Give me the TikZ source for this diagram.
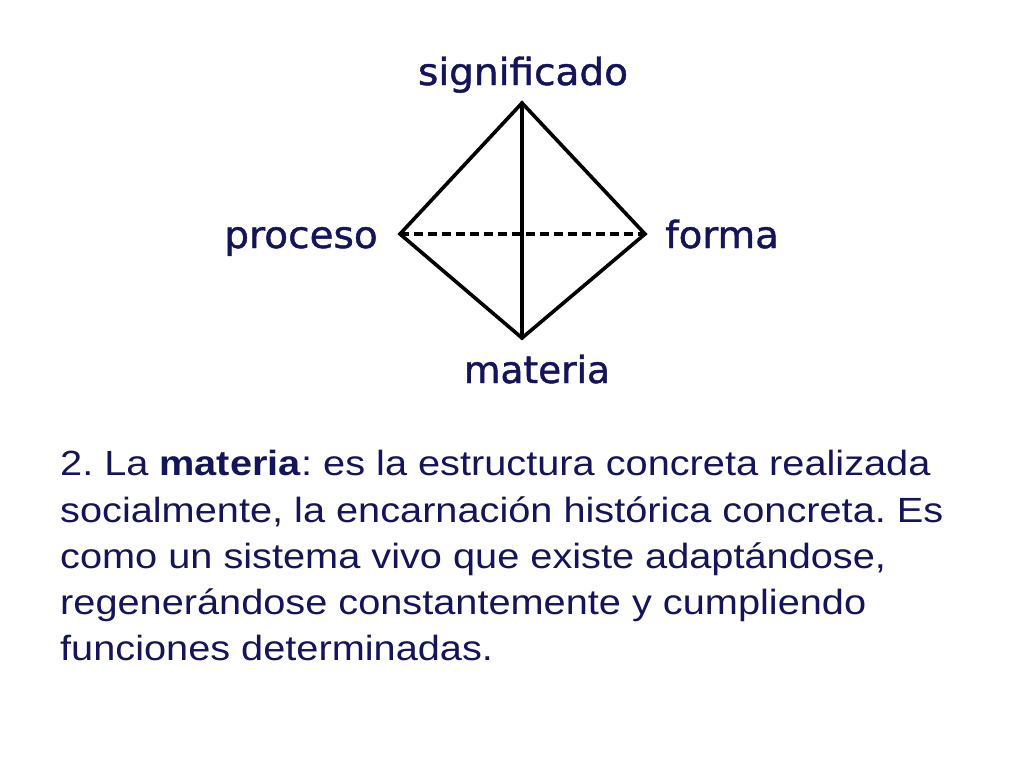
\documentclass[tikz,border=0pt]{standalone}
\usepackage{fontspec}
\setmainfont{Liberation Sans}
\newfontfamily\labelfont[FakeBold=1.2]{DejaVu Sans}
\definecolor{navy}{RGB}{20,20,90}
\frenchspacing
\newcommand{\wideline}[1]{\scalebox{1.135}[1]{#1}}
\begin{document}
\begin{tikzpicture}[x=1pt,y=-1pt,
  edge/.style={line width=3.6pt,black,line cap=round,line join=miter},
  dashedge/.style={line width=3.4pt,black,dash pattern=on 9pt off 5pt},
  lbl/.style={anchor=base,inner sep=0pt,text=navy,font=\labelfont\fontsize{37.5}{40}\selectfont},
  para/.style={anchor=base west,inner sep=0pt,text=navy,font=\fontsize{35}{46}\selectfont}]
\useasboundingbox (0,0) rectangle (1024,768);
\coordinate (T) at (522,103);
\coordinate (L) at (400,234);
\coordinate (R) at (645,234);
\coordinate (B) at (522,338);
\node[lbl] (sig) at (523,85) {\scalebox{1.04}[1]{significado}};
\node[lbl] (pro) at (301,248) {\scalebox{1.04}[1]{proceso}};
\node[lbl] (for) at (722,248) {\scalebox{1.03}[1]{forma}};
\node[lbl] (mat) at (537,383) {materia};
\draw[edge] (L) -- (T) -- (R) -- (B) -- cycle;
\draw[edge] (T) -- (B);
\draw[dashedge] (L) -- (R);
\node[para] (p1) at (60,475) {\wideline{2. La \textbf{materia}: es la estructura concreta realizada}};
\node[para] (p2) at (60,522) {\wideline{socialmente, la encarnación histórica concreta. Es}};
\node[para] (p3) at (60,568) {\wideline{como un sistema vivo que existe adaptándose,}};
\node[para] (p4) at (60,614) {\wideline{regenerándose constantemente y cumpliendo}};
\node[para] (p5) at (60,660) {\wideline{funciones determinadas.}};
\end{tikzpicture}
\end{document}
